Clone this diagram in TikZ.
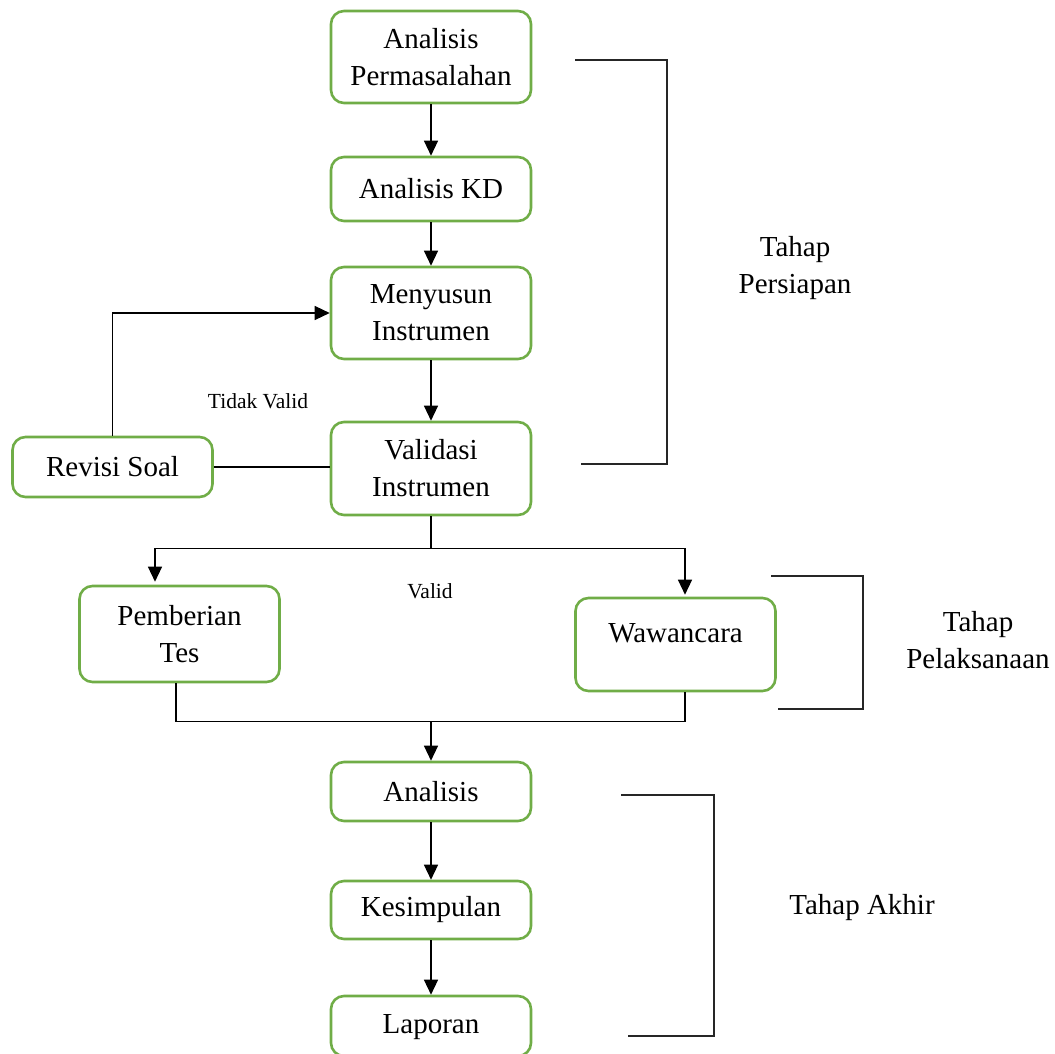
\documentclass[tikz,border=0pt]{standalone}
\usepackage{fontspec}
\setmainfont{Liberation Serif}
\usetikzlibrary{arrows.meta}
\definecolor{boxgreen}{RGB}{112,173,71}
\begin{document}
\begin{tikzpicture}[x=1pt,y=-1pt,
  flowbox/.style={draw=boxgreen,line width=2.6pt,rounded corners=13pt,fill=white,
    minimum width=200pt,align=center,inner sep=0pt,
    font=\fontsize{29}{37}\selectfont},
  conn/.style={line width=1.3pt,draw=black},
  arr/.style={conn,-{Triangle[length=15pt,width=14pt]}},
  brk/.style={line width=1.3pt,draw=black!85},
  lbl/.style={font=\fontsize{29}{37}\selectfont,align=center,inner sep=0pt},
  small/.style={font=\fontsize{21.5}{25}\selectfont,inner sep=0pt}]
\useasboundingbox (0,0) rectangle (1055,1054);
% boxes
\node[flowbox,minimum height=92pt] (b1) at (431,57) {Analisis\\Permasalahan};
\node[flowbox,minimum height=64pt] (b2) at (431,189) {Analisis KD};
\node[flowbox,minimum height=92pt] (b3) at (431,313) {Menyusun\\Instrumen};
\node[flowbox,minimum height=93pt] (b4) at (431,468.5) {Validasi\\Instrumen};
\node[flowbox,minimum height=60pt] (rev) at (112.5,467) {Revisi Soal};
\node[flowbox,minimum height=96pt] (pt) at (179.5,634) {Pemberian\\Tes};
\node[flowbox,minimum height=93pt,text depth=22pt] (waw) at (675.5,644.5) {Wawancara};
\node[flowbox,minimum height=59pt] (ana) at (431,791.5) {Analisis};
\node[flowbox,minimum height=58pt] (kes) at (431,910) {Kesimpulan};
\node[flowbox,minimum height=60pt,text height=20pt,text depth=6pt] (lap) at (431,1026) {Laporan};
% connectors
\draw[arr] (b1) -- (b2);
\draw[arr] (b2) -- (b3);
\draw[arr] (b3) -- (b4);
\draw[arr] (rev.north) |- (b3.west);
\draw[conn] (rev.east) -- (rev.east -| b4.west);
\coordinate (split) at ([yshift=-32pt]b4.south);
\draw[conn] (b4.south) -- (split);
\draw[arr] (split) -| ([xshift=-24.5pt,yshift=3pt]pt.north);
\draw[arr] (split) -| ([xshift=9.5pt,yshift=2pt]waw.north);
\coordinate (merge) at ([yshift=-38pt]pt.south -| b4.south);
\draw[conn] ([xshift=-3.5pt]pt.south) |- (merge);
\draw[conn] ([xshift=9.5pt]waw.south) |- (merge);
\draw[arr] (merge) -- (ana.north);
\draw[arr] (ana) -- (kes);
\draw[arr] (kes) -- (lap);
% labels
\node[small] (tv) at (258,401) {Tidak Valid};
\node[small] (vl) at (430,591) {Valid};
% brackets
\draw[brk] (575,60) -- (667,60) -- (667,464) -- (581,464);
\draw[brk] (771,576) -- (863,576) -- (863,709) -- (778,709);
\draw[brk] (621,795) -- (714,795) -- (714,1036) -- (628,1036);
\node[lbl] (t1) at (795,268) {Tahap\\Persiapan};
\node[lbl] (t2) at (978,640) {Tahap\\Pelaksanaan};
\node[lbl] (t3) at (862,908) {Tahap Akhir};
\end{tikzpicture}
\end{document}
